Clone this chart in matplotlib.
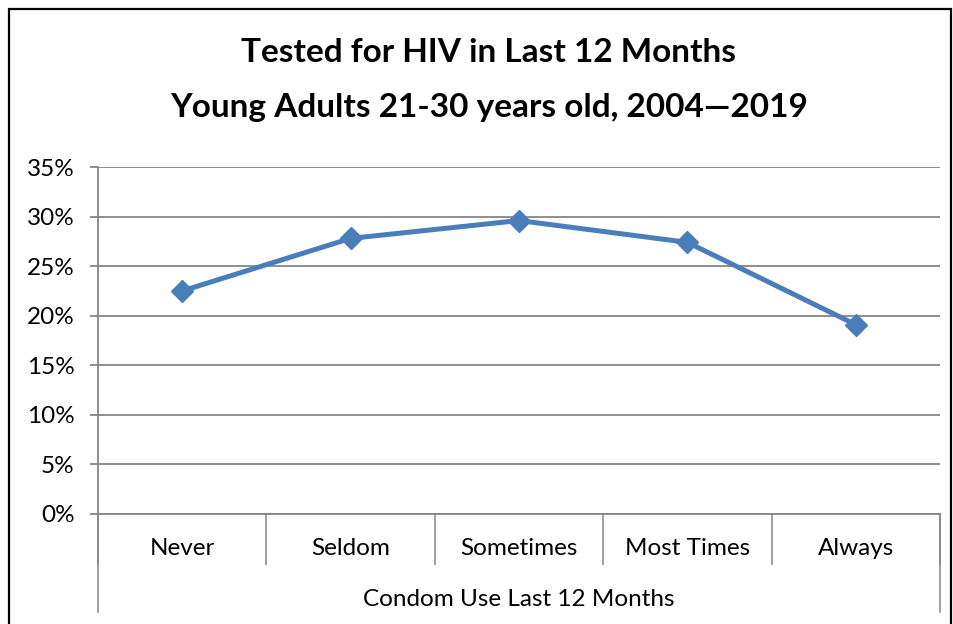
import matplotlib.pyplot as plt
from matplotlib.patches import Rectangle

categories = ['Never', 'Seldom', 'Sometimes', 'Most Times', 'Always']
tested = [22.5, 27.8, 29.6, 27.4, 19.1]
yticks = [0, 5, 10, 15, 20, 25, 30, 35]

plt.rcParams['font.family'] = ['Lato', 'DejaVu Sans']

W, H = 954, 624
fig = plt.figure(figsize=(W / 100, H / 100), dpi=100)
ax = fig.add_axes([98 / W, 1 - 514 / H, (940 - 98) / W, (514 - 167) / H])

grid_c = '#868686'
x = list(range(len(categories)))
ax.plot(x, tested, color='#4a7ebb', lw=3.6, marker='D', ms=11,
        markeredgecolor='#4a7ebb', zorder=3)

ax.set_xlim(-0.5, len(categories) - 0.5)
ax.set_ylim(0, 35)
ax.set_yticks(yticks)
ax.set_yticklabels([f'{v}%' for v in yticks], fontsize=17.5)
ax.yaxis.grid(True, color=grid_c, lw=1.3)
ax.set_axisbelow(True)
ax.tick_params(axis='y', length=6, color=grid_c, width=1.3, pad=11)

ax.set_xticks(x)
ax.set_xticklabels(categories, fontsize=17.5)
ax.tick_params(axis='x', which='major', length=0, pad=17)
ax.set_xticks([i - 0.5 for i in range(len(categories) + 1)], minor=True)
ax.tick_params(axis='x', which='minor', length=37, color=grid_c, width=1.1)

for s in ['top', 'right']:
    ax.spines[s].set_visible(False)
ax.spines['left'].set_color(grid_c)
ax.spines['left'].set_linewidth(1.3)
ax.spines['bottom'].set_color(grid_c)
ax.spines['bottom'].set_linewidth(1.3)

# outer separators for the second-level category label
trans = ax.get_xaxis_transform()
for xe in [-0.5, len(categories) - 0.5]:
    ax.plot([xe, xe], [0, -98 / 347], transform=trans, color=grid_c,
            lw=1.1, clip_on=False)
ax.text(2, -86 / 347, 'Condom Use Last 12 Months', transform=trans,
        ha='center', va='center', fontsize=17.5)

fig.text(489 / W, 1 - 53 / H, 'Tested for HIV in Last 12 Months',
         ha='center', va='center', fontsize=24, fontweight='bold')
fig.text(489 / W, 1 - 107 / H, 'Young Adults 21-30 years old, 2004\u20142019',
         ha='center', va='center', fontsize=24, fontweight='bold')

fig.patches.append(Rectangle((9 / W, -0.1), (951 - 9) / W, 1.1 - 9 / H,
                             transform=fig.transFigure, fill=False,
                             edgecolor='black', lw=1.6))

fig.savefig('out.png', dpi=100)
